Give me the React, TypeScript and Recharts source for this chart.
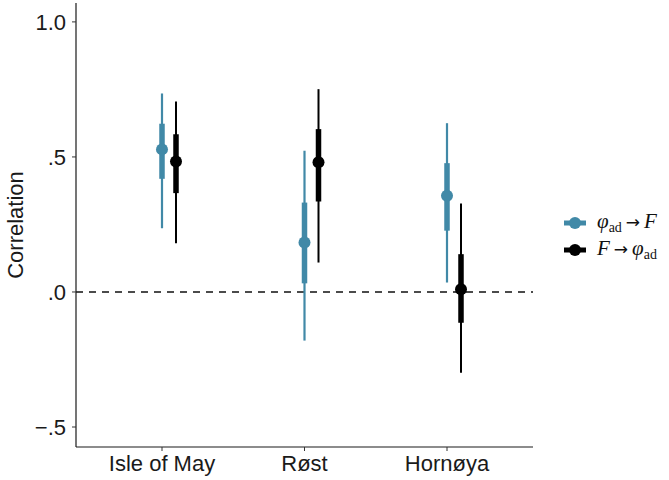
import {
  ComposedChart,
  Line,
  XAxis,
  YAxis,
  ErrorBar,
  ReferenceLine,
} from "recharts";

const sites = ["Isle of May", "Røst", "Hornøya"];

// phi_ad -> F
const phiToF = [0.528, 0.183, 0.356];
const phiToFInner = [[0.419, 0.623], [0.032, 0.331], [0.227, 0.477]];
const phiToFOuter = [[0.236, 0.735], [-0.18, 0.523], [0.035, 0.625]];

// F -> phi_ad
const fToPhi = [0.483, 0.48, 0.01];
const fToPhiInner = [[0.366, 0.584], [0.335, 0.603], [-0.114, 0.14]];
const fToPhiOuter = [[0.18, 0.705], [0.109, 0.751], [-0.299, 0.328]];

const yTicks = [-0.5, 0, 0.5, 1];

const TEAL = "#4189a7";
const BLACK = "#000000";

const delta = (est: number, [lo, hi]: number[]) => [est - lo, hi - est];

const data = sites.map((site, i) => ({
  site,
  a: phiToF[i],
  aIn: delta(phiToF[i], phiToFInner[i]),
  aOut: delta(phiToF[i], phiToFOuter[i]),
  b: fToPhi[i],
  bIn: delta(fToPhi[i], fToPhiInner[i]),
  bOut: delta(fToPhi[i], fToPhiOuter[i]),
}));

const fmtY = (v: number) => {
  if (v === 1) return "1.0";
  if (v === 0) return ".0";
  return (v < 0 ? "\u2212" : "") + "." + String(Math.abs(v)).split(".")[1];
};

const axisText = { fontFamily: "Liberation Sans, Arial, sans-serif", fontSize: 22, fill: "#1a1a1a" };

const Phi = () => (
  <span>
    <i>φ</i>
    <sub style={{ fontSize: 14, verticalAlign: "-4px" }}>ad</sub>
  </span>
);

const Arrow = () => (
  <span style={{ fontFamily: "DejaVu Sans, sans-serif", fontSize: 17, margin: "0 4px" }}>→</span>
);

const legendItems = [
  { color: TEAL, label: <><Phi /><Arrow /><i>F</i></> },
  { color: BLACK, label: <><i>F</i><Arrow /><Phi /></> },
];

const LegendBox = () => (
  <div
    style={{
      position: "absolute",
      left: 563,
      top: 209,
      fontFamily: "Liberation Serif, Times New Roman, serif",
      fontSize: 21,
      color: "#111",
    }}
  >
    {legendItems.map((it, i) => (
      <div key={i} style={{ display: "flex", alignItems: "center", height: 27 }}>
        <svg width={24} height={16} style={{ marginRight: 10 }}>
          <line x1={1} y1={8} x2={23} y2={8} stroke={it.color} strokeWidth={5} />
          <circle cx={12} cy={8} r={6} fill={it.color} />
        </svg>
        <span style={{ whiteSpace: "nowrap" }}>{it.label}</span>
      </div>
    ))}
  </div>
);

export default function App() {
  return (
    <div style={{ position: "absolute", left: 0, top: 0, width: 669, height: 480, background: "#fff" }}>
      <ComposedChart
        width={669}
        height={480}
        data={data}
        margin={{ top: 3, right: 136, left: 0, bottom: 0 }}
      >
        <XAxis
          dataKey="site"
          type="category"
          padding={{ left: 86, right: 86 }}
          height={33}
          tick={axisText}
          tickSize={4}
          tickMargin={4}
          axisLine={{ stroke: "#1a1a1a", strokeWidth: 1.2 }}
          tickLine={{ stroke: "#333" }}
        />
        <XAxis
          xAxisId="dodge"
          dataKey="site"
          type="category"
          padding={{ left: 100, right: 72 }}
          hide
        />
        <YAxis
          type="number"
          domain={[-0.574, 1.07]}
          ticks={yTicks}
          allowDataOverflow
          width={76}
          tickFormatter={fmtY}
          tick={axisText}
          tickSize={4}
          tickMargin={6}
          axisLine={{ stroke: "#1a1a1a", strokeWidth: 1.2 }}
          tickLine={{ stroke: "#333" }}
          label={{
            value: "Correlation",
            angle: -90,
            position: "insideLeft",
            offset: 15,
            style: { ...axisText, textAnchor: "middle" },
          }}
        />
        <ReferenceLine y={0} stroke="#111" strokeWidth={1.5} strokeDasharray="7 6" />
        <Line
          dataKey="a"
          stroke="none"
          isAnimationActive={false}
          dot={{ r: 6, fill: TEAL, stroke: TEAL, strokeWidth: 0 }}
          activeDot={false}
        >
          <ErrorBar dataKey="aOut" width={0} stroke={TEAL} strokeWidth={2.2} isAnimationActive={false} />
          <ErrorBar dataKey="aIn" width={0} stroke={TEAL} strokeWidth={5.5} isAnimationActive={false} />
        </Line>
        <Line
          dataKey="b"
          xAxisId="dodge"
          stroke="none"
          isAnimationActive={false}
          dot={{ r: 6, fill: BLACK, stroke: BLACK, strokeWidth: 0 }}
          activeDot={false}
        >
          <ErrorBar dataKey="bOut" width={0} stroke={BLACK} strokeWidth={2} isAnimationActive={false} />
          <ErrorBar dataKey="bIn" width={0} stroke={BLACK} strokeWidth={5.5} isAnimationActive={false} />
        </Line>
      </ComposedChart>
      <LegendBox />
    </div>
  );
}
